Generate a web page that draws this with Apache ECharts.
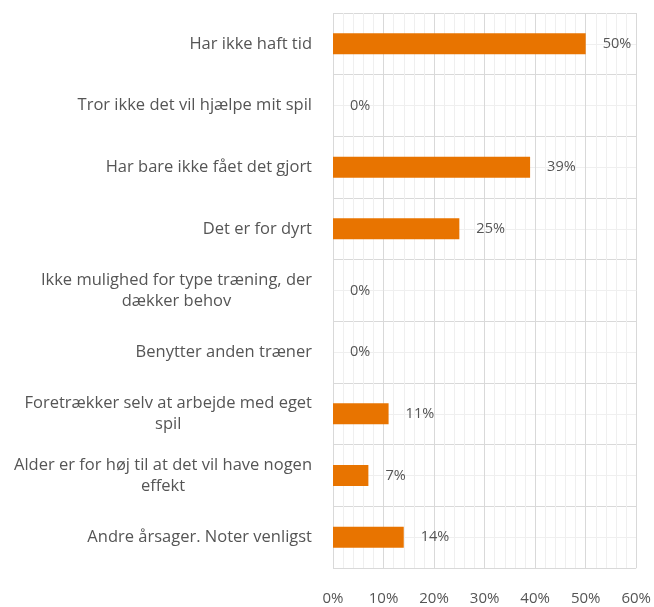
<!DOCTYPE html>
<html>
<head>
<meta charset="utf-8">
<script src="https://cdn.jsdelivr.net/npm/echarts@6/dist/echarts.min.js"></script>
<style>
  html, body { margin: 0; padding: 0; background: #fff; }
  #chart { width: 654px; height: 607px; }
</style>
</head>
<body>
<div id="chart"></div>
<script>
const categories = [
  'Har ikke haft tid',
  'Tror ikke det vil hjælpe mit spil',
  'Har bare ikke fået det gjort',
  'Det er for dyrt',
  'Ikke mulighed for type træning, der\ndækker behov',
  'Benytter anden træner',
  'Foretrækker selv at arbejde med eget\nspil',
  'Alder er for høj til at det vil have nogen\neffekt',
  'Andre årsager. Noter venligst'
]
const values = [50, 0, 39, 25, 0, 0, 11, 7, 14]
const xTicks = [0, 10, 20, 30, 40, 50, 60]

const textColor = '#555555'
const font = '"Open Sans", "Noto Sans", sans-serif'

const chart = echarts.init(document.getElementById('chart'))
chart.setOption({
  animation: false,
  grid: { left: 333, right: 16, top: 13, bottom: 39 },
  xAxis: {
    type: 'value',
    min: xTicks[0],
    max: xTicks[xTicks.length - 1],
    interval: 10,
    axisLine: { show: false },
    axisTick: { show: false },
    axisLabel: {
      formatter: '{value}%',
      color: textColor,
      fontFamily: font,
      fontSize: 15,
      margin: 23
    },
    splitLine: { lineStyle: { color: '#d9d9d9', width: 1 } },
    minorTick: { show: false, splitNumber: 5 },
    minorSplitLine: { show: true, lineStyle: { color: '#efefef', width: 1 } }
  },
  yAxis: [{
    type: 'category',
    data: categories,
    inverse: true,
    axisLine: { show: false },
    axisTick: { show: false },
    splitLine: { show: false },
    axisLabel: {
      margin: 21,
      color: textColor,
      fontFamily: font,
      fontSize: 16.5,
      lineHeight: 21,
      formatter: (v) => v.split('\n').map(l => '{c|' + l + '}').join('\n'),
      rich: {
        c: { align: 'center', color: textColor, fontFamily: font, fontSize: 16.5, lineHeight: 21 }
      }
    }
  }, {
    type: 'value',
    min: 0,
    max: categories.length * 2,
    interval: 1,
    axisLine: { show: false },
    axisTick: { show: false },
    axisLabel: { show: false },
    splitLine: { show: true, lineStyle: { color: ['#d9d9d9', '#efefef'], width: 1 } }
  }],
  series: [{
    type: 'bar',
    yAxisIndex: 0,
    data: values,
    barWidth: 21,
    itemStyle: { color: '#e87400' },
    label: {
      show: true,
      position: 'right',
      distance: 17,
      formatter: '{c}%',
      color: textColor,
      fontFamily: font,
      fontSize: 14.5
    }
  }]
})
</script>
</body>
</html>
